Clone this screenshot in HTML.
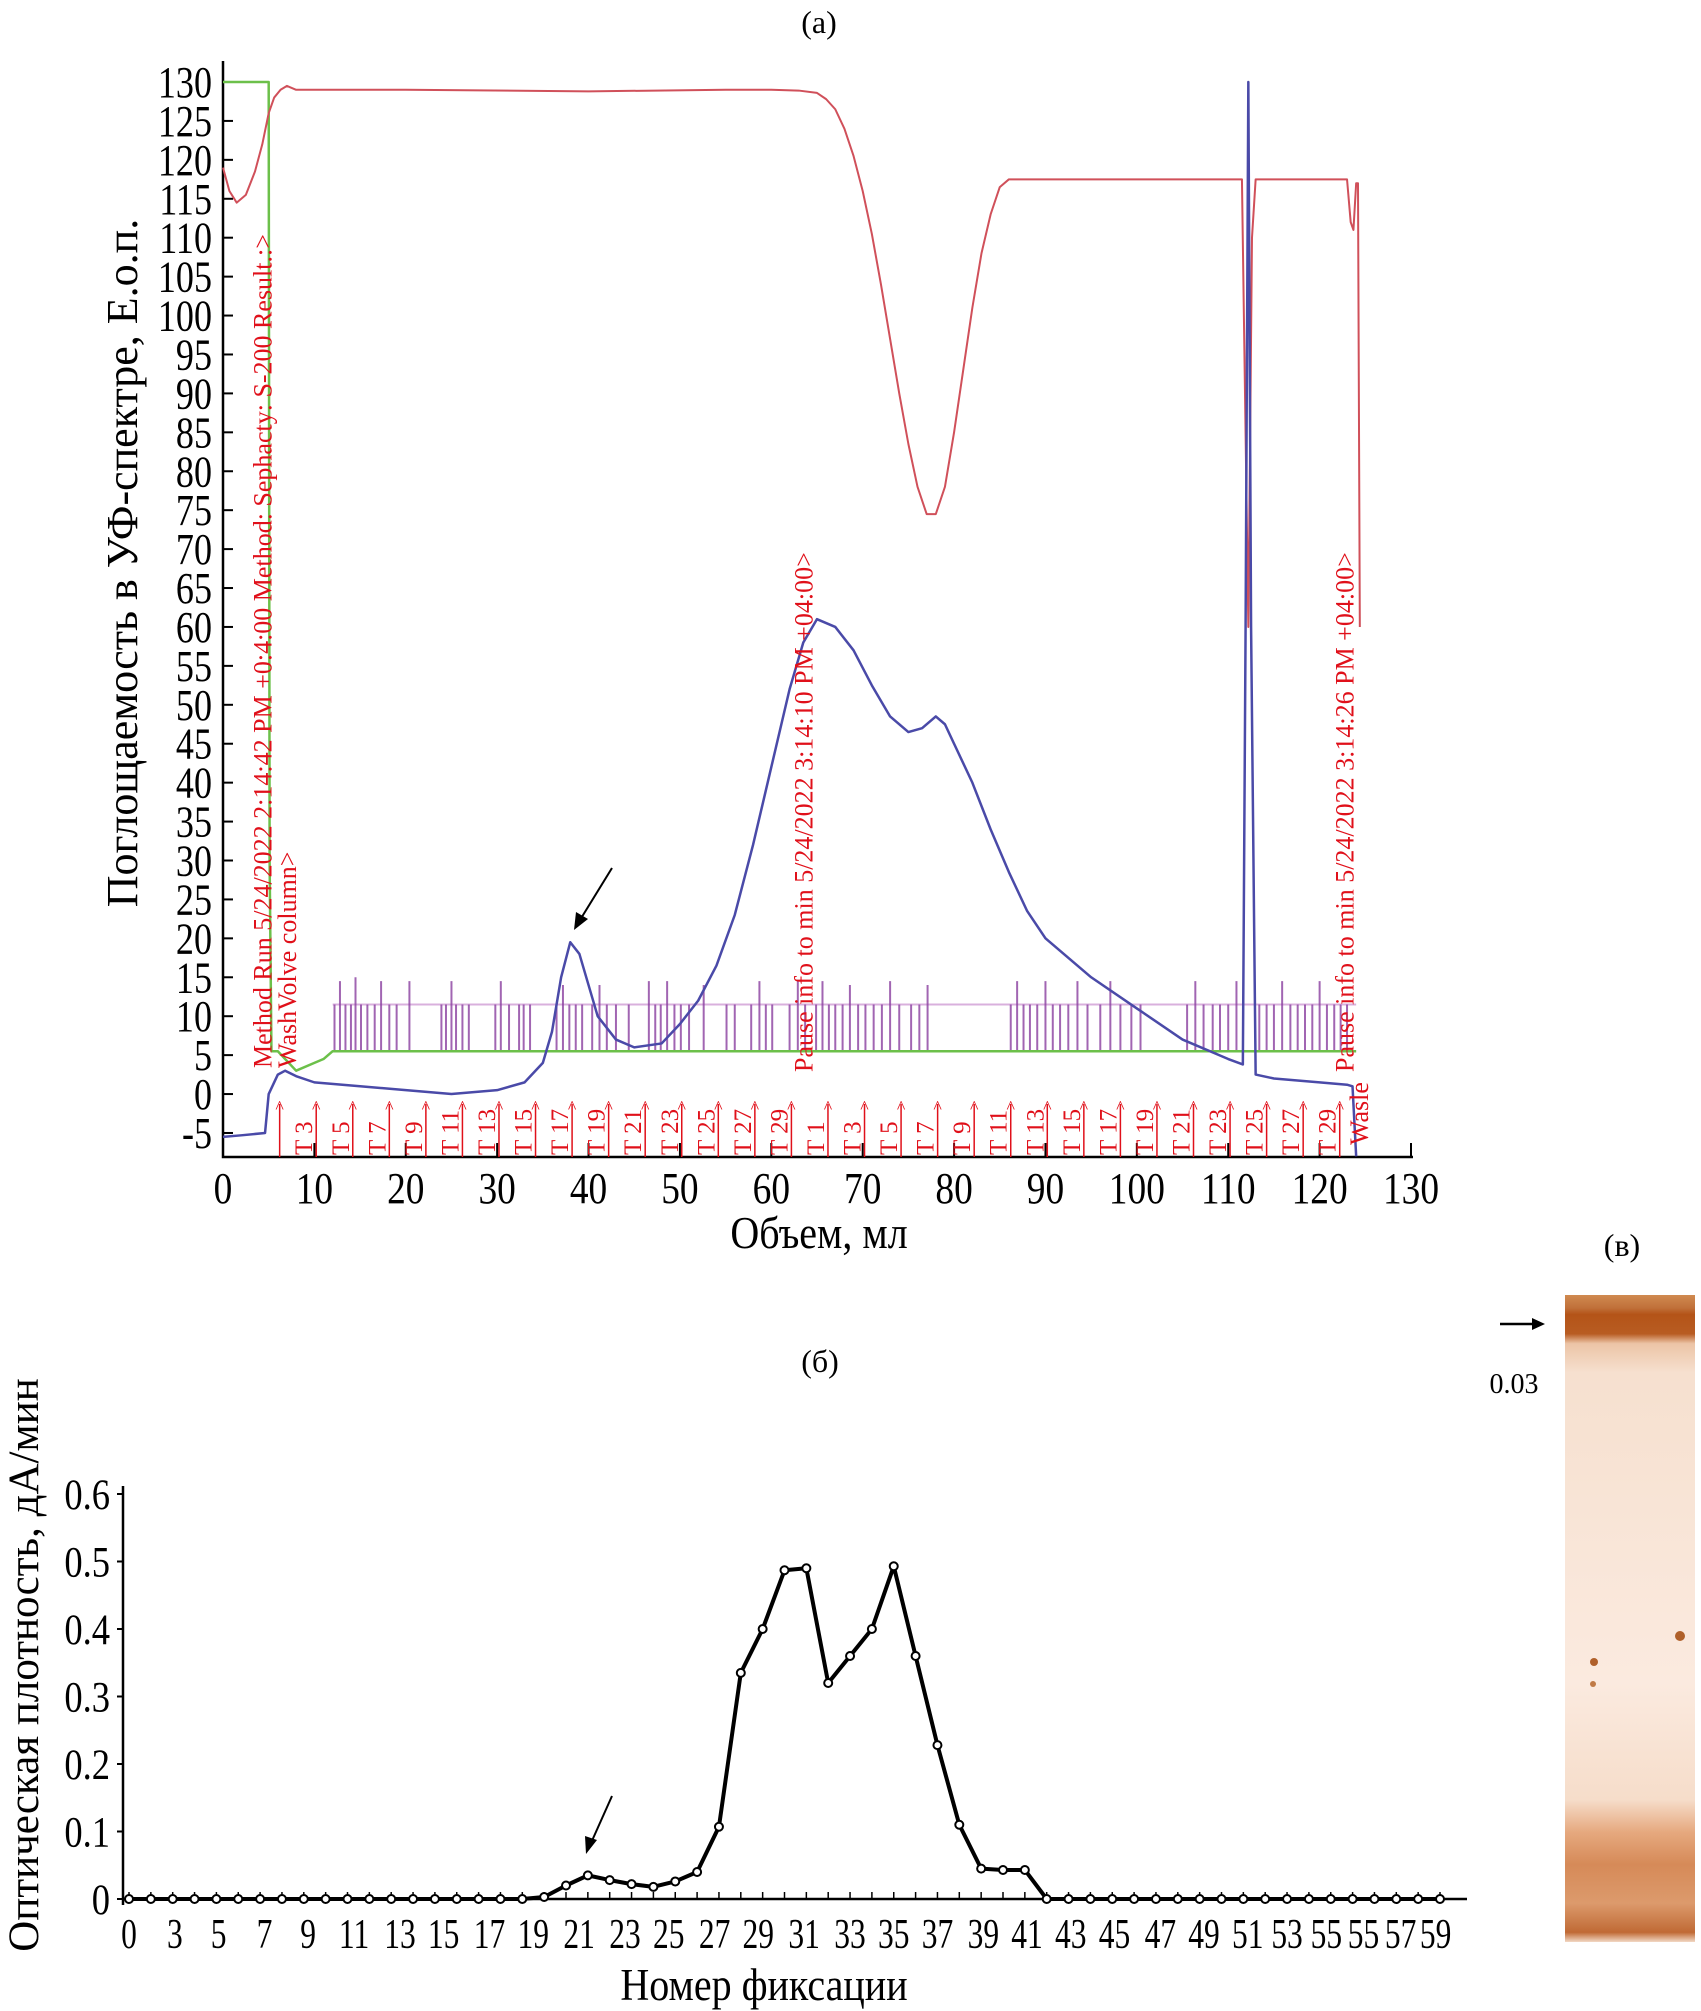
<!DOCTYPE html>
<html><head><meta charset="utf-8"><style>
html,body{margin:0;padding:0;background:#fff;}
svg{display:block;font-family:"Liberation Serif","DejaVu Serif",serif;}
</style></head><body>
<svg id="chart" width="1701" height="2011" viewBox="0 0 1701 2011" xmlns="http://www.w3.org/2000/svg">
<defs>
<linearGradient id="gelg" x1="0" y1="0" x2="0" y2="1">
<stop offset="0" stop-color="#d08a50"/>
<stop offset="0.02" stop-color="#c0703a"/>
<stop offset="0.03" stop-color="#b45418"/>
<stop offset="0.06" stop-color="#b85c22"/>
<stop offset="0.075" stop-color="#ecc4a6"/>
<stop offset="0.12" stop-color="#f6e0cf"/>
<stop offset="0.6" stop-color="#fbeadf"/>
<stop offset="0.78" stop-color="#f6ddca"/>
<stop offset="0.83" stop-color="#e6a97f"/>
<stop offset="0.88" stop-color="#d68a58"/>
<stop offset="0.94" stop-color="#dc9a6c"/>
<stop offset="0.985" stop-color="#c06a35"/>
<stop offset="1" stop-color="#f2d8c4"/>
</linearGradient>
</defs>
<g id="pa"></g>
<g id="pb"></g>
<g id="pc">
<text x="1622" y="1256" font-size="32" text-anchor="middle">(в)</text>
<rect x="1565" y="1295" width="130" height="647" fill="url(#gelg)"/>
<circle cx="1594" cy="1662" r="4" fill="#b0602a"/>
<circle cx="1680" cy="1636" r="5" fill="#b0602a"/>
<circle cx="1593" cy="1684" r="3" fill="#c07a45"/>
<line x1="1500" y1="1324" x2="1536" y2="1324" stroke="#000" stroke-width="2.5"/>
<polygon points="1545,1324 1532,1318 1532,1330" fill="#000"/>
<text x="1514" y="1393" font-size="28" text-anchor="middle">0.03</text>
</g>
</svg>
<script>
// ---- Panel (a) data ----
const redX = [0,0.7,1.5,2.5,3.5,4.3,5,5.6,6.3,7,8,20,40,55,60,63,65,66,67,68,69,70,71,72,73,74,75,76,77,78,79,80,81,82,83,84,85,86,90,100,111.5,112.2,112.6,113,118,123,123.4,123.7,124,124.2,124.4];
const redY = [119,116,114.5,115.5,118.5,122,126,128,129,129.5,129,129,128.8,129,129,128.9,128.6,127.8,126.5,124,120.5,116,110.5,104,97,90,83.5,78,74.5,74.5,78,85,93,101,108,113,116.5,117.5,117.5,117.5,117.5,60,110,117.5,117.5,117.5,112,111,117,117,60];
const blueX = [0,2,4.6,5,6,6.8,8,10,15,20,25,30,33,35,36,37,38,39,40,41,43,45,48,50,52,54,56,58,60,62,63.5,65,67,69,71,73,75,76.5,78,79,80,82,84,86,88,90,95,100,105,110,111.6,111.9,112.2,112.5,113,115,120,123,123.6,124];
const blueY = [-5.5,-5.3,-5,0,2.5,3,2.3,1.5,1,0.5,0,0.5,1.5,4,8,15,19.5,18,14,10,7,6,6.5,9,12,16.5,23,32,42,52,58,61,60,57,52.5,48.5,46.5,47,48.5,47.5,45,40,34,28.5,23.5,20,15,11,7,4.5,3.8,60,130,60,2.5,2,1.5,1.2,1,-8];
const greenX = [0,5,5.1,5.3,6,8,10,11,12,124];
const greenY = [130,130,30,5.5,5.5,3,4,4.5,5.5,5.5];
const spikeX = [12.2,12.8,13.4,14,14.5,15.1,15.8,16.6,17.3,18.2,19,20.4,23.9,24.4,25,25.5,26.2,26.9,29.8,30.4,31.3,32.4,32.9,33.6,36.5,37.2,37.9,38.6,39.3,40.4,41.2,42,43,44.4,46.6,47.3,47.9,48.6,49.4,50.1,51,52.6,55.1,56,57.8,58.7,59.4,60.1,62,62.9,63.7,64.9,65.6,66.3,67,67.8,68.6,69.5,70.3,71.2,72.1,73,74,75.3,76.2,77.1,86.2,86.9,87.6,88.3,89.1,90,90.8,91.6,92.5,93.5,94.6,96,97.1,98.2,99.4,100.4,105.5,106.4,107.3,108.3,109.1,110,110.9,113.4,114.2,115,115.9,116.8,117.6,118.4,119.2,120,120.8,121.6,122.3,123];
const spikeTop = [11.5,14.5,11.5,11.5,15,11.5,11.5,11.5,14.5,11.5,11.5,14.5,11.5,11.5,14.5,11.5,11.5,11.5,11.5,14.5,11.5,11.5,11.5,11.5,11.5,14,11.5,11.5,11.5,11.5,14,11.5,11.5,11.5,14.5,11.5,11.5,14.5,11.5,11.5,11.5,14,11.5,11.5,11.5,14.5,11.5,11.5,11.5,14.5,11.5,11.5,14.5,11.5,11.5,11.5,14,11.5,11.5,11.5,11.5,14.5,11.5,11.5,11.5,14,11.5,14.5,11.5,11.5,11.5,14.5,11.5,11.5,11.5,14.5,11.5,11.5,14.5,11.5,11.5,11.5,11.5,14.5,11.5,11.5,11.5,11.5,14.5,11.5,11.5,11.5,14.5,11.5,11.5,11.5,11.5,14.5,11.5,11.5,11.5,11.5,14.5,11.5];
const fracLabels = ["","T3","T5","T7","T9","T11","T13","T15","T17","T19","T21","T23","T25","T27","T29","T1","T3","T5","T7","T9","T11","T13","T15","T17","T19","T21","T23","T25","T27","T29"];
const fracX = [6.2,10.2,14.2,18.2,22.2,26.2,30.2,34.2,38.2,42.2,46.2,50.2,54.2,58.2,62.2,66.2,70.2,74.2,78.2,82.2,86.2,90.2,94.2,98.2,102.2,106.2,110.2,114.2,118.2,122.2];
const yTicksA = [-5,0,5,10,15,20,25,30,35,40,45,50,55,60,65,70,75,80,85,90,95,100,105,110,115,120,125,130];
const xTicksA = [0,10,20,30,40,50,60,70,80,90,100,110,120,130];
// ---- Panel (b) data ----
const fixIdx = [];
for (let i = 0; i <= 60; i++) fixIdx.push(i);
const activity = [0,0,0,0,0,0,0,0,0,0,0,0,0,0,0,0,0,0,0,0.003,0.02,0.035,0.028,0.022,0.018,0.026,0.04,0.107,0.335,0.4,0.487,0.49,0.32,0.36,0.4,0.493,0.36,0.228,0.11,0.045,0.043,0.043,0,0,0,0,0,0,0,0,0,0,0,0,0,0,0,0,0,0,0];
const xLabelsB = ["0","3","5","7","9","11","13","15","17","19","21","23","25","27","29","31","33","35","37","39","41","43","45","47","49","51","53","55","55","57","59"];
const xLabelAtB = [0,2.1,4.1,6.2,8.2,10.3,12.4,14.4,16.5,18.5,20.6,22.7,24.7,26.8,28.8,30.9,33,35,37,39.1,41.1,43.1,45.1,47.2,49.2,51.2,53,54.8,56.5,58.2,59.8];
const yTicksB = [0,0.1,0.2,0.3,0.4,0.5,0.6];

const NS = "http://www.w3.org/2000/svg";
function mk(parent, tag, attrs, text) {
  const e = document.createElementNS(NS, tag);
  for (const k in attrs) e.setAttribute(k, attrs[k]);
  if (text !== undefined) e.textContent = text;
  parent.appendChild(e);
  return e;
}
function ctext(parent, x, y, size, sx, anchor, str) {
  return mk(parent, 'text', {x: 0, y: 0, 'font-size': size, 'text-anchor': anchor, transform: `translate(${x},${y}) scale(${sx},1)`}, str);
}
const xa = v => 223 + v * 1188 / 130;
const ya = v => 82 + (130 - v) * 7.785;
const xb = i => 129 + i * 21.85;
const yb = v => 1899 - v * 675;

const pa = document.getElementById('pa');
let t = mk(pa, 'text', {x: 819, y: 33, 'font-size': 32, 'text-anchor': 'middle'}, '(a)');



let ax = mk(pa, 'path', {d: `M223 61 V1157 H1413`, fill: 'none', stroke: '#000', 'stroke-width': 2.5});


yTicksA.forEach(v => {
  let l = mk(pa, 'line', {x1: 223, x2: 233, y1: ya(v), y2: ya(v), stroke: '#000', 'stroke-width': 2});
  
  
  let tx = ctext(pa, 212, ya(v) + 15, 44, 0.82, 'end', String(v));
  
  
});
xTicksA.forEach(v => {
  let l = mk(pa, 'line', {x1: xa(v), x2: xa(v), y1: 1157, y2: 1143, stroke: '#000', 'stroke-width': 2});
  
  
  let tx = ctext(pa, xa(v), 1203, 44, 0.85, 'middle', String(v));
  
  
});
t = ctext(pa, 819, 1248, 46, 0.87, 'middle', 'Объем, мл');


t = mk(pa, 'text', {x: 0, y: 0, 'font-size': 44, 'text-anchor': 'middle', transform: 'translate(137,563) rotate(-90)'}, 'Поглощаемость в УФ-спектре, Е.о.п.');



let pl = mk(pa, 'line', {x1: xa(12), x2: xa(124), y1: ya(11.5), y2: ya(11.5), stroke: '#d9b0dd', 'stroke-width': 2});


spikeX.forEach((x, i) => {
  const top = spikeTop[i] !== undefined ? spikeTop[i] : 11.5;
  let s = mk(pa, 'line', {x1: xa(x), x2: xa(x), y1: ya(5.5), y2: ya(top), stroke: '#8a3fa0', 'stroke-width': 2, opacity: 0.8});
  
  
});

function poly(parent, xs, ys, fx, fy, color, w, name) {
  const p = mk(parent, 'polyline', {points: xs.map((x, i) => fx(x) + ',' + fy(ys[i])).join(' '), fill: 'none', stroke: color, 'stroke-width': w, 'stroke-linejoin': 'round'});
  
  
  return p;
}
poly(pa, greenX, greenY, xa, ya, '#6cc04a', 2.5, 'green-trace');
poly(pa, redX, redY, xa, ya, '#d0505a', 2, 'red-trace');
poly(pa, blueX, blueY, xa, ya, '#4a4aa8', 2.5, 'uv-absorbance-trace');

fracX.forEach((x, i) => {
  let l = mk(pa, 'line', {x1: xa(x), x2: xa(x), y1: 1104, y2: 1157, stroke: '#e0101a', 'stroke-width': 1.5});
  
  
  let c = mk(pa, 'text', {x: xa(x), y: 1113, 'font-size': 18, 'text-anchor': 'middle', fill: '#e0101a'}, '^');
  
  
  if (fracLabels[i]) {
    let tx = mk(pa, 'text', {x: 0, y: 0, 'font-size': 25, fill: '#e0101a', transform: `translate(${xa(x) - 4},1155) rotate(-90)`}, fracLabels[i].replace('T', 'T '));
    
    
  }
});
const notes = [
  [5.3, 1068, 'Method Run 5/24/2022 2:14:42 PM +0:4:00 Method: Sephacty: S-200 Result.:>'],
  [8.0, 1068, 'WashVolve column>'],
  [64.5, 1072, 'Pause info to min 5/24/2022 3:14:10 PM +04:00>'],
  [123.7, 1072, 'Pause info to min 5/24/2022 3:14:26 PM +04:00>'],
  [125.3, 1145, 'Wasle']
];
notes.forEach(n => {
  let tx = mk(pa, 'text', {x: 0, y: 0, 'font-size': 26, fill: '#e0101a', transform: `translate(${xa(n[0])},${n[1]}) rotate(-90)`}, n[2]);
  
  
});
let ar = mk(pa, 'line', {x1: 612, y1: 868, x2: 580, y2: 920, stroke: '#000', 'stroke-width': 2});


let ah = mk(pa, 'polygon', {points: '574,930 576,912 588,919', fill: '#000'});



// ---- Panel b ----
const pb = document.getElementById('pb');
t = mk(pb, 'text', {x: 820, y: 1372, 'font-size': 32, 'text-anchor': 'middle'}, '(б)');


ax = mk(pb, 'path', {d: `M123 1486 V1905 M123 1899 H1467`, fill: 'none', stroke: '#000', 'stroke-width': 2.5});


yTicksB.forEach(v => {
  let l = mk(pb, 'line', {x1: 123, x2: 117, y1: yb(v), y2: yb(v), stroke: '#000', 'stroke-width': 2});
  
  
  let tx = ctext(pb, 110, yb(v) + 15, 43, 0.85, 'end', String(v));
  
  
});
fixIdx.forEach(i => {
  let l = mk(pb, 'line', {x1: xb(i), x2: xb(i), y1: 1899, y2: 1892, stroke: '#000', 'stroke-width': 1.5});
  
  
});
xLabelsB.forEach((s, k) => {
  let tx = ctext(pb, xb(xLabelAtB[k]), 1948, 42, 0.75, 'middle', s);
  
  
});
t = ctext(pb, 764, 2000, 46, 0.87, 'middle', 'Номер фиксации');


t = mk(pb, 'text', {x: 0, y: 0, 'font-size': 43, 'text-anchor': 'middle', transform: 'translate(38,1665) rotate(-90)'}, 'Оптическая плотность, дА/мин');


poly(pb, fixIdx, activity, xb, yb, '#000', 4, 'activity-line');
fixIdx.forEach(i => {
  let c = mk(pb, 'circle', {cx: xb(i), cy: yb(activity[i]), r: 4, fill: '#fff', stroke: '#000', 'stroke-width': 2});
  
  
});
ar = mk(pb, 'line', {x1: 612, y1: 1796, x2: 591, y2: 1843, stroke: '#000', 'stroke-width': 2});


ah = mk(pb, 'polygon', {points: '586,1854 585,1836 597,1840', fill: '#000'});


</script>
</body></html>
